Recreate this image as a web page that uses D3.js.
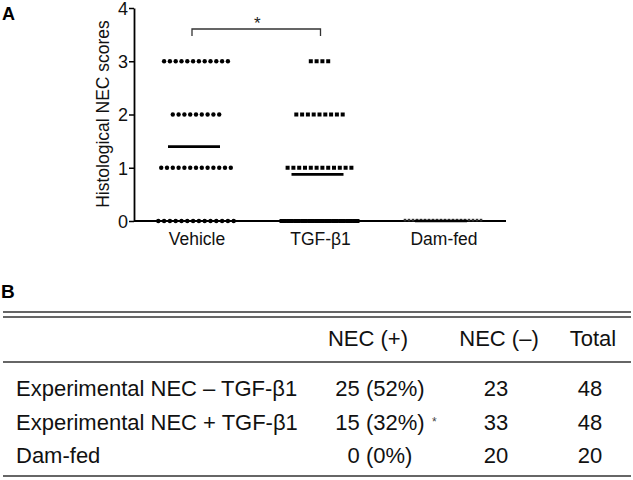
<!DOCTYPE html>
<html><head><meta charset="utf-8">
<script src="https://cdn.jsdelivr.net/npm/d3@7"></script>
<style>body{margin:0;background:#fff;} svg{display:block;font-family:"Liberation Sans",Arial,sans-serif;}</style>
</head><body>
<svg id="c" width="633" height="480"></svg>
<script>
// ---- data ----
const categories = ["Vehicle", "TGF-β1", "Dam-fed"];
const scoreLevels = [0, 1, 2, 3];
const vehicleCounts = [14, 13, 9, 12];   // number of animals at score 0,1,2,3
const tgfCounts = [23, 12, 9, 4];
const damFedCounts = [20, 0, 0, 0];
const yTicks = [0, 1, 2, 3, 4];
const tableHeader = ["", "NEC (+)", "NEC (–)", "Total"];
const tableRows = [
  ["Experimental NEC – TGF-β1", "25 (52%)", "23", "48"],
  ["Experimental NEC + TGF-β1", "15 (32%)", "33", "48"],
  ["Dam-fed", "0 (0%)", "20", "20"]
];

const countsByCat = [vehicleCounts, tgfCounts, damFedCounts];
const svg = d3.select("#c");

const y = d3.scaleLinear().domain([0, 4]).range([221, 8]);
const x = d3.scalePoint().domain(categories).range([196, 443]);

// panel letters
svg.append("text").attr("x", 2).attr("y", 20).attr("font-size", 18).attr("font-weight", "bold").text("A");
svg.append("text").attr("x", 1).attr("y", 298).attr("font-size", 19).attr("font-weight", "bold").text("B");

// y axis
const yAxis = d3.axisLeft(y).tickValues(yTicks).tickFormat(d3.format("d")).tickSize(5).tickSizeOuter(0);
const gy = svg.append("g").attr("transform", "translate(134,0)").call(yAxis);
gy.select(".domain").attr("stroke", "#000").attr("stroke-width", 1.8);
gy.selectAll(".tick line").attr("stroke", "#000").attr("stroke-width", 1.5);
gy.selectAll(".tick text").attr("font-size", 18).attr("x", -6).attr("dy", "0.36em")
  .attr("font-family", "Liberation Sans, Arial, sans-serif").attr("fill", "#111");

// x axis line
svg.append("line").attr("x1", 134).attr("x2", 506).attr("y1", y(0)).attr("y2", y(0)).attr("stroke", "#000").attr("stroke-width", 2);

// category labels
svg.selectAll("text.cat").data(categories).enter().append("text").attr("class", "cat")
  .attr("x", d => x(d) + 1).attr("y", 245).attr("text-anchor", "middle").attr("font-size", 17.5).attr("fill", "#111").text(d => d);

// y axis title
svg.append("text").attr("transform", "translate(109,114) rotate(-90)").attr("text-anchor", "middle")
  .attr("font-size", 17.5).attr("fill", "#111").text("Histological NEC scores");

// dots
const maxSpan = 76, baseStep = 5.8;
countsByCat.forEach((counts, ci) => {
  const cx = x(categories[ci]);
  counts.forEach((n, li) => {
    if (n === 0) return;
    const step = Math.min(baseStep, maxSpan / Math.max(1, n - 1));
    const pts = d3.range(n).map(i => cx + (i - (n - 1) / 2) * step);
    const yy = y(scoreLevels[li]);
    const g = svg.append("g");
    if (ci === 0) {
      g.selectAll("circle").data(pts).enter().append("circle").attr("cx", d => d).attr("cy", yy).attr("r", 2.2).attr("fill", "#000");
    } else if (ci === 1) {
      g.selectAll("rect").data(pts).enter().append("rect").attr("x", d => d - 2).attr("y", yy - 2).attr("width", 4).attr("height", 4).attr("fill", "#000");
    } else {
      g.selectAll("rect").data(pts).enter().append("rect").attr("x", d => d - 1.3).attr("y", yy - 2.2).attr("width", 2.6).attr("height", 2.6).attr("fill", "#333");
    }
  });
  // mean line
  const total = d3.sum(counts);
  const mean = d3.sum(counts.map((n, i) => n * scoreLevels[i])) / total;
  svg.append("line").attr("x1", cx - 28).attr("x2", cx + 24).attr("y1", y(mean)).attr("y2", y(mean))
    .attr("stroke", "#000").attr("stroke-width", 2.6);
});

// significance bracket
const bx1 = x(categories[0]) - 4, bx2 = x(categories[1]) + 1;
svg.append("path").attr("d", `M${bx1},36V29H${bx2}V36`).attr("fill", "none").attr("stroke", "#333").attr("stroke-width", 1.3);
svg.append("text").attr("x", (bx1 + bx2) / 2 + 1).attr("y", 29).attr("text-anchor", "middle").attr("font-size", 17).attr("fill", "#222").text("*");

// table
const headX = [16, 368, 499, 593];
const valX = [16, 380, 496, 590];
const tfs = 22;
const hline = (yy) => svg.append("line").attr("x1", 3).attr("x2", 631).attr("y1", yy).attr("y2", yy).attr("stroke", "#333").attr("stroke-width", 1.6);
hline(312); hline(317); hline(362); hline(476);

tableHeader.forEach((h, i) => {
  if (!h) return;
  svg.append("text").attr("x", headX[i]).attr("y", 346).attr("text-anchor", "middle").attr("font-size", tfs).attr("fill", "#111").text(h);
});
const rowY = [396, 430, 463];
tableRows.forEach((r, ri) => {
  r.forEach((c, i) => {
    svg.append("text").attr("x", valX[i]).attr("y", rowY[ri])
      .attr("text-anchor", i === 0 ? "start" : "middle").attr("font-size", tfs).attr("fill", "#111").text(c);
  });
});
// asterisk next to 15 (32%)
svg.append("text").attr("x", 432).attr("y", rowY[1] - 4).attr("font-size", 12).attr("fill", "#444").text("*");
</script>
</body></html>
